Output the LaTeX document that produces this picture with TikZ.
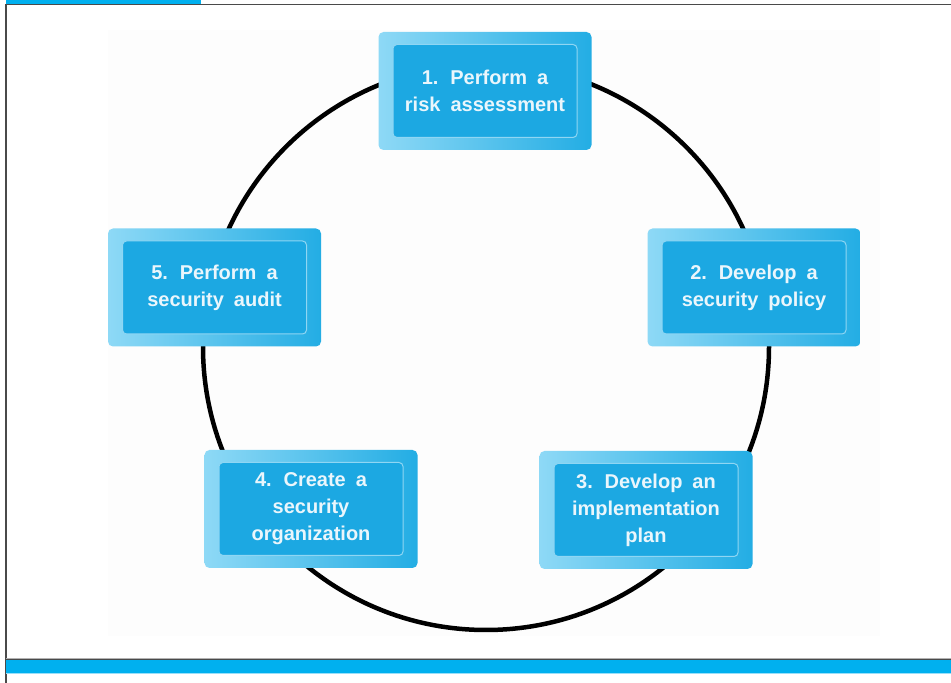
\documentclass[tikz,border=0pt]{standalone}
\usepackage{fontspec}
\setmainfont{Liberation Sans}
\usepackage{xcolor}
\usepackage{tikz}
\definecolor{barblue}{HTML}{00B0EF}
\definecolor{boxblue}{HTML}{1CA8E2}
\definecolor{bevlight}{HTML}{8ED9F6}
\definecolor{bevdark}{HTML}{23ADE4}
\definecolor{boxline}{HTML}{8FD6F3}
\definecolor{boxtext}{HTML}{EAF6FC}
\definecolor{framegray}{HTML}{4A4A4A}
\definecolor{backgray}{HTML}{FDFDFD}
\newcommand{\boxfont}{\fontsize{20}{27}\selectfont\bfseries\spaceskip=0.5em plus 0.1em\relax}

\tikzset{
  bevel/.style={rounded corners=5pt, left color=bevlight, right color=bevdark,
                minimum width=213pt, minimum height=118pt, inner sep=0pt},
  stepbox/.style={fill=boxblue, draw=boxline, line width=1pt, rounded corners=4pt,
                  minimum width=184pt, minimum height=93pt, inner sep=2pt,
                  text=boxtext, align=center, font=\boxfont}
}

\begin{document}
\begin{tikzpicture}[x=1pt, y=1pt]
    \useasboundingbox (0,0) rectangle (951,683);
    % frame of the page
    \fill[backgray] (108,47) rectangle (880,653);
    \fill[barblue] (6,679) rectangle (201,683);
    \draw[framegray, line width=1.5pt] (6,678.5) -- (951,678.5);
    \draw[framegray, line width=1.5pt] (6,0) -- (6,679);
    \draw[gray!60, line width=0.8pt] (6,25) -- (951,25);
    \fill[barblue] (6,10) rectangle (951,23.5);
    \draw[framegray, line width=1pt] (6,23.5) -- (951,23.5);
    \draw[barblue!40, line width=0.8pt] (6,9.5) -- (951,9.5);

    % the cycle
    \coordinate (c) at (486,336);
    \draw[black, line width=4.5pt] (c) circle[radius=283];

    \node[bevel] (b1) at (485,592) {};
    \node[stepbox] (s1) at (b1) {1. Perform a\\risk assessment};
    \node[bevel] (b2) at (754,395.5) {};
    \node[stepbox] (s2) at (b2) {2. Develop a\\security policy};
    \node[bevel] (b3) at (646,173) {};
    \node[stepbox] (s3) at (b3) {3. Develop an\\implementation\\plan};
    \node[bevel] (b4) at (311,174) {};
    \node[stepbox] (s4) at (b4) {4. Create a\\security\\organization};
    \node[bevel] (b5) at (214.5,395.5) {};
    \node[stepbox] (s5) at (b5) {5. Perform a\\security audit};
\end{tikzpicture}
\end{document}
